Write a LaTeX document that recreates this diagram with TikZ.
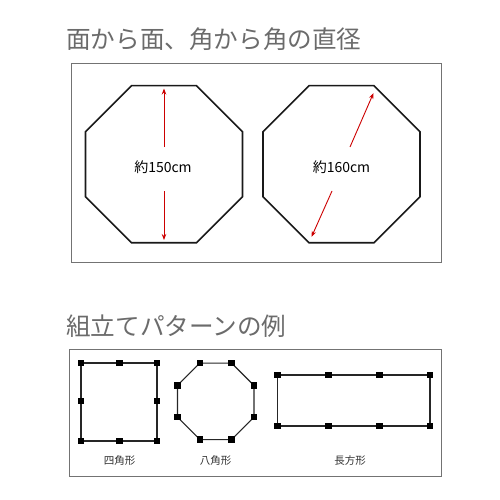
\documentclass[tikz,border=0pt]{standalone}
\usepackage{fontspec}
\setmainfont{Noto Sans CJK JP}
\usetikzlibrary{arrows.meta}
\tikzset{
  title/.style={anchor=west, inner sep=0pt, text=black!58, font=\fontsize{24.6}{25}\selectfont},
  frame/.style={draw=black!55, line width=1pt},
  octa/.style={draw=black!90, line width=1.6pt, line join=miter},
  dia/.style={draw=red!80!black, line width=0.9pt, -{Stealth[length=6pt,width=4.5pt]}},
  edge/.style={draw=black!85, line width=1.1pt},
  peg/.style={fill=black, minimum size=6.5pt, inner sep=0pt},
  size/.style={inner sep=0pt, font=\fontsize{14}{14}\selectfont},
  shapename/.style={inner sep=0pt, text=black!80, font=\fontsize{10.5}{11}\selectfont}
}
\begin{document}
\begin{tikzpicture}[x=1pt,y=-1pt]
  \useasboundingbox (0,0) rectangle (500,500);

  % diameters
  \node[title] (head1) at (66,39) {面から面、角から角の直径};
  \draw[frame] (71,64) rectangle (441,262);
  \foreach \i in {0,...,7}{
    \coordinate (a\i) at ([shift={(164,164.2)}]{22.5+45*\i}:85);
    \coordinate (b\i) at ([shift={(341.5,164.2)}]{22.5+45*\i}:85);
  }
  \draw[octa] (a0) \foreach \i in {1,...,7}{-- (a\i)} -- cycle;
  \draw[octa] (b0) \foreach \i in {1,...,7}{-- (b\i)} -- cycle;
  \node[size] (d150) at (163,167) {約150cm};
  \node[size] (d160) at (341.5,167) {約160cm};
  \coordinate (a-up) at (164,147);
  \coordinate (a-top) at (164,88.5);
  \coordinate (a-dn) at (164,191);
  \coordinate (a-bot) at (164,240);
  \coordinate (b-up) at (350,147);
  \coordinate (b-top) at (373.5,93);
  \coordinate (b-dn) at (332,191);
  \coordinate (b-bot) at (311.5,237);
  \draw[dia] (a-up) -- (a-top);
  \draw[dia] (a-dn) -- (a-bot);
  \draw[dia] (b-up) -- (b-top);
  \draw[dia] (b-dn) -- (b-bot);

  % patterns
  \node[title] (head2) at (66,326) {組立てパターンの例};
  \draw[frame] (69.5,349.5) rectangle (441,476);

  % square
  \foreach \x/\y [count=\k] in {81/363,119.5/363,157/363,157/401,157/441,119.5/441,81/441,81/401}
    \coordinate (s\k) at (\x,\y);
  \draw[edge] (s1) \foreach \k in {2,...,8}{-- (s\k)} -- cycle;
  \foreach \k in {1,...,8} \node[peg] (sp\k) at (s\k) {};
  \node[shapename] (sq) at (119.5,461) {四角形};

  % octagon
  \foreach \i in {0,...,7}
    \coordinate (o\i) at ([shift={(215.7,401.3)}]{22.5+45*\i}:41.4);
  \draw[edge] (o0) \foreach \i in {1,...,7}{-- (o\i)} -- cycle;
  \foreach \i in {0,...,7} \node[peg] (op\i) at (o\i) {};
  \node[shapename] (oc) at (215.7,461) {八角形};

  % rectangle
  \foreach \x/\y [count=\k] in {277.5/375,328.5/375,379.5/375,430/375,430/426,379.5/426,328.5/426,277.5/426}
    \coordinate (r\k) at (\x,\y);
  \draw[edge] (r1) \foreach \k in {2,...,8}{-- (r\k)} -- cycle;
  \foreach \k in {1,...,8} \node[peg] (rp\k) at (r\k) {};
  \node[shapename] (re) at (350,461) {長方形};
\end{tikzpicture}
\end{document}
